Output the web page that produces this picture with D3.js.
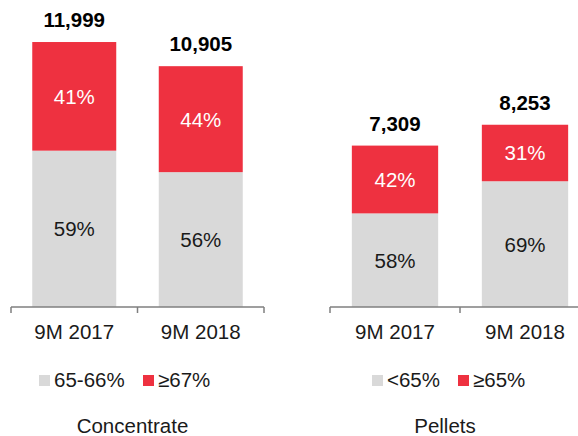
<!DOCTYPE html>
<html><head><meta charset="utf-8">
<script src="https://cdn.jsdelivr.net/npm/d3@7"></script>
<style>body{margin:0;background:#fff;}svg{display:block;font-family:Arial,"Liberation Sans",sans-serif;}</style>
</head><body>
<svg id="c" width="578" height="436"></svg>
<script>
const categories = ["9M 2017", "9M 2018"];
const concTotals = [11999, 10905];
const concLow = [59, 56];   // 65-66%
const concHigh = [41, 44];  // >=67%
const pelTotals = [7309, 8253];
const pelLow = [58, 69];    // <65%
const pelHigh = [42, 31];   // >=65%
const concLegend = ["65-66%", "≥67%"];
const pelLegend = ["<65%", "≥65%"];
const panelTitles = ["Concentrate", "Pellets"];

const GREY = "#D9D9D9", RED = "#EE3140";
const FS = 20.5;
const svg = d3.select("#c");
const y = d3.scaleLinear().domain([0, 12000]).range([307, 42]);

function panel(opts) {
  const {x0, x1, totals, low, high, legend, title, legX, legX2, titleX} = opts;
  const x = d3.scaleBand().domain(categories).range([x0, x1]).paddingInner(0.336).paddingOuter(0.168);
  const g = svg.append("g");
  categories.forEach((c, i) => {
    const lowVal = totals[i] * low[i] / 100;
    const bx = x(c), bw = x.bandwidth();
    g.append("rect").attr("x", bx).attr("width", bw)
      .attr("y", y(lowVal)).attr("height", y(0) - y(lowVal)).attr("fill", GREY);
    g.append("rect").attr("x", bx).attr("width", bw)
      .attr("y", y(totals[i])).attr("height", y(lowVal) - y(totals[i])).attr("fill", RED);
    g.append("text").attr("x", bx + bw / 2).attr("y", (y(lowVal) + y(0)) / 2 + 7.5)
      .attr("text-anchor", "middle").attr("font-size", FS).attr("fill", "#1a1a1a").text(low[i] + "%");
    g.append("text").attr("x", bx + bw / 2).attr("y", (y(lowVal) + y(totals[i])) / 2 + 7.5)
      .attr("text-anchor", "middle").attr("font-size", FS).attr("fill", "#fff").text(high[i] + "%");
    g.append("text").attr("x", bx + bw / 2).attr("y", y(totals[i]) - 15)
      .attr("text-anchor", "middle").attr("font-size", FS).attr("font-weight", "bold").attr("fill", "#000")
      .text(d3.format(",")(totals[i]));
  });
  const ax = g.append("g").attr("transform", `translate(0,${y(0)})`)
    .call(d3.axisBottom(x).tickSize(0).tickPadding(17));
  ax.select(".domain").remove();
  ax.selectAll("text").attr("font-size", FS).attr("fill", "#1a1a1a").attr("font-family", "Arial, 'Liberation Sans', sans-serif");
  g.append("line").attr("x1", x0).attr("x2", x1).attr("y1", y(0)).attr("y2", y(0))
    .attr("stroke", "#7f7f7f").attr("stroke-width", 1.5);
  const bounds = [x0, x(categories[1]) - x.step() * x.paddingInner() / 2, x1];
  bounds.forEach(b => g.append("line").attr("x1", b).attr("x2", b).attr("y1", y(0)).attr("y2", y(0) + 6)
    .attr("stroke", "#7f7f7f").attr("stroke-width", 1.5));
  const cols = [GREY, RED];
  [legX, legX2].forEach((lx, i) => {
    g.append("rect").attr("x", lx).attr("y", 375).attr("width", 11).attr("height", 11).attr("fill", cols[i]);
    g.append("text").attr("x", lx + 15).attr("y", 387).attr("font-size", FS).attr("fill", "#1a1a1a").text(legend[i]);
  });
  g.append("text").attr("x", titleX).attr("y", 433).attr("text-anchor", "middle")
    .attr("font-size", FS).attr("fill", "#1a1a1a").text(title);
}

panel({x0: 11, x1: 264, totals: concTotals, low: concLow, high: concHigh, legend: concLegend,
  title: panelTitles[0], legX: 39, legX2: 143, titleX: 132.5});
panel({x0: 330, x1: 590, totals: pelTotals, low: pelLow, high: pelHigh, legend: pelLegend,
  title: panelTitles[1], legX: 372, legX2: 458, titleX: 445});
</script>
</body></html>
